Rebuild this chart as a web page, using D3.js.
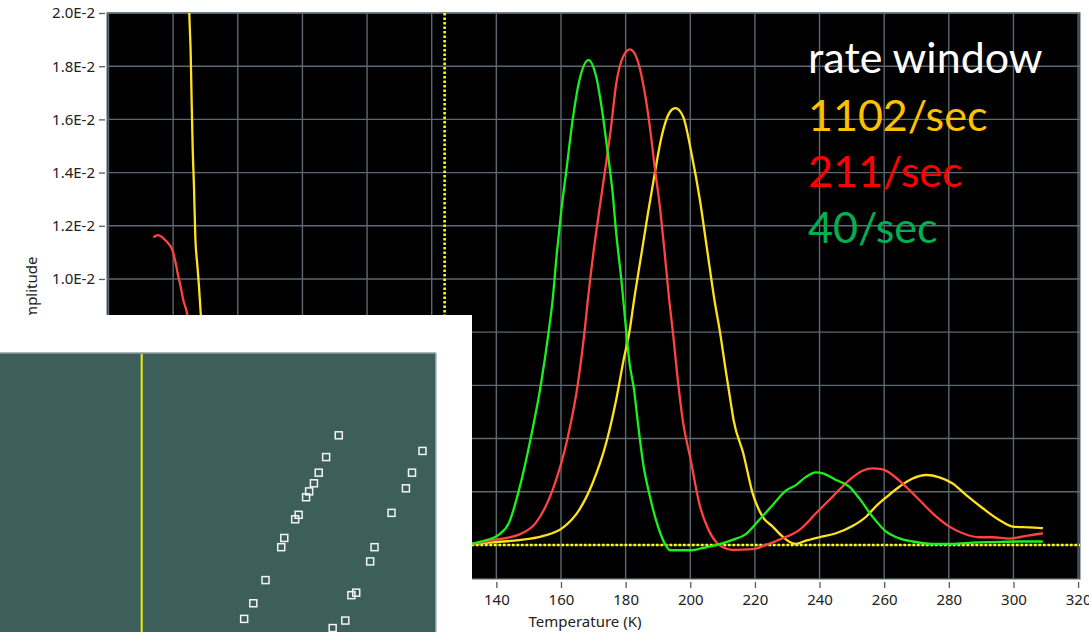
<!DOCTYPE html>
<html>
<head>
<meta charset="utf-8">
<script src="https://cdn.jsdelivr.net/npm/d3@7"></script>
<style>
  body { margin: 0; background: #ffffff; }
  svg { display: block; }
</style>
</head>
<body>
<svg id="chart" width="1089" height="632"></svg>
<script>
// ---- DLTS spectra: signal amplitude vs temperature for three rate windows ----
const tempTicks = [20, 40, 60, 80, 100, 120, 140, 160, 180, 200, 220, 240, 260, 280, 300, 320];
const ampTicks = [0, 0.002, 0.004, 0.006, 0.008, 0.010, 0.012, 0.014, 0.016, 0.018, 0.020];
const rateWindows = ["1102/sec", "211/sec", "40/sec"];

// [temperature K, amplitude]
const spec1102 = [
  [128, 0.00003], [133.6, 0.00005], [139.8, 0.00011], [147, 0.00018], [154.3, 0.00033],
  [160.5, 0.00064], [165.7, 0.00133], [169.8, 0.00233], [174, 0.00384], [177.1, 0.00547],
  [179.4, 0.00697], [181.2, 0.00803], [182.6, 0.0092], [184.9, 0.01095], [186.9, 0.01246],
  [189, 0.01396], [191.1, 0.01534], [193.7, 0.01628], [195.4, 0.01642], [197.8, 0.0161],
  [200.4, 0.01471], [203, 0.01296], [205.1, 0.0112], [207.5, 0.0092], [209.2, 0.008],
  [211.1, 0.00646], [212.6, 0.0053], [213.4, 0.0047], [216.4, 0.00345], [219.3, 0.00194],
  [222.4, 0.00106], [225.5, 0.00069], [228.6, 0.00031], [231.1, 0.00009], [232.7, 0.00004],
  [235.8, 0.00016], [239.9, 0.00029], [245.1, 0.00044], [250.2, 0.00071], [254.4, 0.00106],
  [257.5, 0.00146], [260.6, 0.00179], [264.7, 0.00219], [268.8, 0.0025], [273, 0.00263],
  [277.1, 0.00254], [281.2, 0.00231], [285.3, 0.00188], [290.5, 0.00138], [295.6, 0.00094],
  [299.8, 0.00069], [304.9, 0.00066], [309.1, 0.00063]
];
const spec211 = [
  [128, 0.00003], [132.5, 0.00005], [139.8, 0.0002], [147, 0.00039], [152.2, 0.00083],
  [157.4, 0.00206], [162.1, 0.00405], [165.2, 0.00604], [167.3, 0.00803], [168.3, 0.0092],
  [170, 0.01095], [172, 0.01271], [173.8, 0.01421], [175.5, 0.01572], [177.1, 0.01735],
  [179.2, 0.01835], [181.3, 0.01863], [183.3, 0.01835], [185.4, 0.01735], [187.5, 0.01572],
  [189, 0.01421], [190.6, 0.01271], [192.1, 0.01095], [193.5, 0.0092], [194.6, 0.00803],
  [196.3, 0.00604], [197.8, 0.00459], [199.9, 0.00334], [203, 0.00146], [205.6, 0.00058],
  [208.2, 0.00008], [210, -0.00008], [213.1, -0.00019], [219.3, -0.00016], [223.4, 0],
  [228.6, 0.00025], [233.7, 0.00056], [238.9, 0.00119], [244, 0.00181], [249.2, 0.00244],
  [253.3, 0.00279], [256.4, 0.00288], [259.5, 0.00284], [262.6, 0.00263], [266.7, 0.00219],
  [270.9, 0.00169], [275, 0.00119], [280.2, 0.00069], [284.3, 0.00044], [289.5, 0.00029],
  [293.6, 0.00029], [298.7, 0.00024], [301.8, 0.00029], [304.9, 0.00036], [309.1, 0.00044]
];
const spec40 = [
  [128, 0], [132, 0.00003], [135.6, 0.00014], [140.8, 0.00039], [143.9, 0.00083],
  [147, 0.00206], [150.7, 0.00405], [153.8, 0.00604], [156.2, 0.00803], [157.4, 0.0092],
  [158.7, 0.01095], [160, 0.01246], [161.8, 0.01421], [163.6, 0.01597], [165.7, 0.01747],
  [168.5, 0.01823], [170.9, 0.0176], [173, 0.0161], [174.5, 0.01471], [175.9, 0.01334],
  [177.1, 0.01171], [178.7, 0.00995], [180.2, 0.00803], [181.2, 0.00685], [182.6, 0.00584],
  [183.8, 0.00459], [185.4, 0.00308], [187.5, 0.00183], [190, 0.0007], [192.6, -0.00005],
  [193.7, -0.0002], [199.9, -0.0002], [204, -0.00011], [208.2, 0], [213.1, 0.00019],
  [217.2, 0.00041], [221.3, 0.00094], [225.5, 0.0015], [229.6, 0.00204], [232.7, 0.00225],
  [235.8, 0.00256], [238.9, 0.00273], [241, 0.00269], [245.1, 0.00244], [249.2, 0.00219],
  [252.3, 0.00175], [256.4, 0.00106], [260.6, 0.0005], [264.7, 0.00025], [268.8, 0.00013],
  [275, 0.00004], [281.2, 0.00004], [287.4, 0.00009], [293.6, 0.00011], [301.8, 0.00013],
  [309.1, 0.00013]
];
// low-temperature traces
const spec1102Low = [
  [44.9, 0.0205], [45.0, 0.0200], [45.43, 0.01848], [45.74, 0.0166], [46.05, 0.01491],
  [46.45, 0.01347], [46.86, 0.01159], [47.48, 0.01053], [48.0, 0.00971], [48.53, 0.00871],
  [48.93, 0.0081]
];
const spec211Low = [
  [33.86, 0.01157], [35.41, 0.01165], [36.96, 0.01153], [38.5, 0.01134], [39.74, 0.01109],
  [40.58, 0.01071], [41.41, 0.01021], [42.34, 0.00971], [43.14, 0.00921], [44.2, 0.00877],
  [44.9, 0.00827]
];
const cursorTemp = 124;

// Arrhenius-style scatter in the overlaid panel (relative units)
const arrheniusA = [
  [0.777, 0.705], [0.748, 0.627], [0.731, 0.571], [0.720, 0.533], [0.709, 0.504],
  [0.702, 0.483], [0.685, 0.420], [0.677, 0.404], [0.652, 0.337], [0.645, 0.304],
  [0.609, 0.186], [0.581, 0.103], [0.560, 0.047]
];
const arrheniusB = [
  [0.969, 0.649], [0.945, 0.571], [0.931, 0.515], [0.898, 0.427], [0.859, 0.304],
  [0.849, 0.253], [0.817, 0.141], [0.806, 0.132], [0.792, 0.041], [0.763, 0.014]
];
const insetMarker = 0.325;

// ---- layout ----
const svg = d3.select("#chart");
const plot = { left: 107, right: 1080, top: 13, bottom: 579 };
const x = d3.scaleLinear().domain([20, 320]).range([108.5, 1078.1]);
const y = d3.scaleLinear().domain([-0.00128, 0.02]).range([plot.bottom, plot.top]);
const seriesColors = ["#ffe21a", "#ff4242", "#1cf01c"];
const legendColors = ["#ffc000", "#ff0000", "#00b050"];
const gridColor = "#5c6872";
const labelFont = "'Noto Sans', 'Open Sans', sans-serif";

svg.append("rect").attr("width", 1089).attr("height", 632).attr("fill", "#ffffff");

// plot background
svg.append("rect")
  .attr("x", plot.left).attr("y", plot.top)
  .attr("width", plot.right - plot.left).attr("height", plot.bottom - plot.top)
  .attr("fill", "#000000");

// grid
const grid = svg.append("g").attr("stroke", gridColor).attr("stroke-width", 1.4);
grid.selectAll("line.v").data(tempTicks).join("line").attr("class", "v")
  .attr("x1", d => x(d)).attr("x2", d => x(d))
  .attr("y1", plot.top).attr("y2", plot.bottom);
grid.selectAll("line.h").data(ampTicks).join("line").attr("class", "h")
  .attr("x1", plot.left).attr("x2", plot.right)
  .attr("y1", d => y(d)).attr("y2", d => y(d));

svg.append("rect")
  .attr("x", plot.left).attr("y", plot.top)
  .attr("width", plot.right - plot.left).attr("height", plot.bottom - plot.top)
  .attr("fill", "none").attr("stroke", "#6b7781").attr("stroke-width", 1.2);

// axes
const sciFormat = v => v.toExponential(1).replace("e", "E").replace("+", "");
const yAxis = svg.append("g").attr("transform", `translate(${plot.left - 2},0)`)
  .call(d3.axisLeft(y).tickValues(ampTicks).tickFormat(sciFormat).tickSize(6).tickPadding(4));
const xAxis = svg.append("g").attr("transform", `translate(0,${plot.bottom + 3})`)
  .call(d3.axisBottom(x).tickValues(tempTicks).tickFormat(d3.format("d")).tickSize(6).tickPadding(6));
[yAxis, xAxis].forEach(g => {
  g.select(".domain").remove();
  g.selectAll(".tick line").attr("stroke", "#555d63").attr("stroke-width", 1.3);
  g.selectAll(".tick text").attr("fill", "#222222")
    .style("font-family", labelFont).style("font-size", "15px");
});

svg.append("text")
  .attr("x", 585).attr("y", 627)
  .attr("text-anchor", "middle")
  .style("font-family", labelFont).style("font-size", "15px")
  .attr("fill", "#222222")
  .text("Temperature (K)");
svg.append("text")
  .attr("transform", "translate(37,293) rotate(-90)")
  .attr("text-anchor", "middle")
  .style("font-family", labelFont).style("font-size", "15px")
  .attr("fill", "#222222")
  .text("Amplitude");

// curves
svg.append("clipPath").attr("id", "plotClip").append("rect")
  .attr("x", plot.left).attr("y", plot.top)
  .attr("width", plot.right - plot.left).attr("height", plot.bottom - plot.top);
const curves = svg.append("g").attr("clip-path", "url(#plotClip)");
const line = d3.line().x(d => x(d[0])).y(d => y(d[1])).curve(d3.curveMonotoneX);

// zero reference and temperature cursor (dotted)
curves.append("line")
  .attr("x1", plot.left).attr("x2", plot.right)
  .attr("y1", y(0)).attr("y2", y(0))
  .attr("stroke", "#ffff00").attr("stroke-width", 2.6).attr("stroke-dasharray", "2.6,1.9");
curves.append("line")
  .attr("x1", x(cursorTemp)).attr("x2", x(cursorTemp))
  .attr("y1", plot.top).attr("y2", plot.bottom)
  .attr("stroke", "#ffff00").attr("stroke-width", 2.6).attr("stroke-dasharray", "2.6,1.9");

const traces = [
  { data: spec1102, color: seriesColors[0] },
  { data: spec1102Low, color: seriesColors[0] },
  { data: spec211, color: seriesColors[1] },
  { data: spec211Low, color: seriesColors[1] },
  { data: spec40, color: seriesColors[2] }
];
curves.selectAll("path.trace").data(traces).join("path").attr("class", "trace")
  .attr("d", d => line(d.data))
  .attr("fill", "none")
  .attr("stroke", d => d.color)
  .attr("stroke-width", 2.3)
  .attr("stroke-linejoin", "round");

// rate-window legend
const legend = svg.append("g")
  .style("font-family", "Lato, 'Open Sans', sans-serif")
  .style("font-size", "43px");
legend.append("text").attr("x", 808).attr("y", 73).attr("fill", "#ffffff").text("rate window");
legend.selectAll("text.rw").data(rateWindows).join("text").attr("class", "rw")
  .attr("x", 808)
  .attr("y", (d, i) => 131 + i * 56)
  .attr("fill", (d, i) => legendColors[i])
  .text(d => d);

// ---- overlaid Arrhenius panel ----
const inset = svg.append("g");
inset.append("rect").attr("x", 0).attr("y", 315).attr("width", 472).attr("height", 317).attr("fill", "#ffffff");
const ix = d3.scaleLinear().domain([0, 1]).range([0, 436]);
const iy = d3.scaleLinear().domain([0, 1]).range([632, 353]);
inset.append("rect")
  .attr("x", ix(0)).attr("y", iy(1))
  .attr("width", ix(1) - ix(0)).attr("height", iy(0) - iy(1))
  .attr("fill", "#3c5f5b");
inset.append("line")
  .attr("x1", ix(0)).attr("x2", ix(1)).attr("y1", iy(1)).attr("y2", iy(1))
  .attr("stroke", "#8f9d9b").attr("stroke-width", 1.5);
inset.append("line")
  .attr("x1", ix(1)).attr("x2", ix(1)).attr("y1", iy(1)).attr("y2", iy(0))
  .attr("stroke", "#a9b4b3").attr("stroke-width", 1.5);
inset.append("line")
  .attr("x1", ix(insetMarker)).attr("x2", ix(insetMarker))
  .attr("y1", iy(1) + 1).attr("y2", iy(0))
  .attr("stroke", "#f2f000").attr("stroke-width", 2);
inset.selectAll("rect.pt").data(arrheniusA.concat(arrheniusB)).join("rect").attr("class", "pt")
  .attr("x", d => ix(d[0]) - 3.5).attr("y", d => iy(d[1]) - 3.5)
  .attr("width", 7).attr("height", 7)
  .attr("fill", "none").attr("stroke", "#f4f4f4").attr("stroke-width", 1.5);
</script>
</body>
</html>
